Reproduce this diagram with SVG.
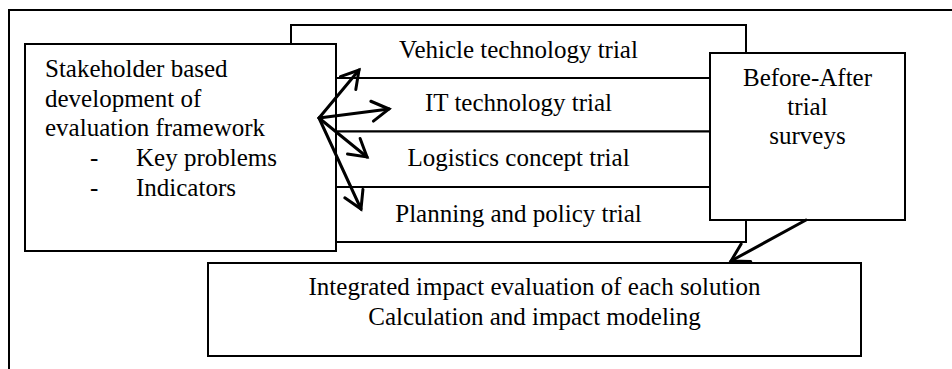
<svg xmlns="http://www.w3.org/2000/svg" width="952" height="369" viewBox="0 0 952 369">
  <style>
    .box { fill: #fff; stroke: #000; stroke-width: 2; }
    .frame { fill: none; stroke: #000; stroke-width: 2; }
    .lbl { font-family: "Liberation Serif", "Times New Roman", serif; font-size: 25px; fill: #000; }
    .mid { text-anchor: middle; }
    .arrow { fill: none; stroke: #000; stroke-width: 3; stroke-linecap: round; marker-end: url(#head); }
  </style>
  <defs>
    <marker id="head" markerUnits="userSpaceOnUse" orient="auto" markerWidth="30" markerHeight="30" refX="0" refY="0" viewBox="-22 -15 30 30" overflow="visible">
      <path d="M-17,-10 L0,0 L-17,10" fill="none" stroke="#000" stroke-width="3" stroke-linecap="round" stroke-linejoin="miter"/>
    </marker>
  </defs>

  <!-- page frame (top and left edges) -->
  <path class="frame" d="M9,369 V10 H952"/>

  <!-- stacked trial rows -->
  <g id="trial-vehicle">
    <rect class="box" x="291" y="25" width="455" height="53"/>
    <text class="lbl mid" x="518.5" y="58">Vehicle technology trial</text>
  </g>
  <g id="trial-it">
    <rect class="box" x="291" y="78" width="455" height="53.5"/>
    <text class="lbl mid" x="518.5" y="111">IT technology trial</text>
  </g>
  <g id="trial-logistics">
    <rect class="box" x="291" y="131.5" width="455" height="55.5"/>
    <text class="lbl mid" x="518.5" y="166">Logistics concept trial</text>
  </g>
  <g id="trial-planning">
    <rect class="box" x="291" y="187" width="455" height="55"/>
    <text class="lbl mid" x="518.5" y="222">Planning and policy trial</text>
  </g>

  <!-- stakeholder framework -->
  <g id="framework">
    <rect class="box" x="25" y="44" width="311" height="207"/>
    <text class="lbl" x="45" y="77">Stakeholder based</text>
    <text class="lbl" x="45" y="106.5">development of</text>
    <text class="lbl" x="45" y="136">evaluation framework</text>
    <text class="lbl" x="90" y="166">-</text>
    <text class="lbl" x="136" y="166">Key problems</text>
    <text class="lbl" x="90" y="195.5">-</text>
    <text class="lbl" x="136" y="195.5">Indicators</text>
  </g>

  <!-- surveys -->
  <g id="surveys">
    <rect class="box" x="710" y="53" width="195" height="167"/>
    <text class="lbl mid" x="807.5" y="86">Before-After</text>
    <text class="lbl mid" x="807.5" y="115">trial</text>
    <text class="lbl mid" x="807.5" y="144">surveys</text>
  </g>

  <!-- integrated evaluation -->
  <g id="evaluation">
    <rect class="box" x="208" y="263" width="653" height="93"/>
    <text class="lbl mid" x="534.5" y="295">Integrated impact evaluation of each solution</text>
    <text class="lbl mid" x="534.5" y="325">Calculation and impact modeling</text>
  </g>

  <!-- connectors -->
  <g id="connectors">
    <line class="arrow" x1="319" y1="118" x2="359" y2="70"/>
    <line class="arrow" x1="319" y1="118" x2="389" y2="109"/>
    <line class="arrow" x1="319" y1="118" x2="367" y2="157"/>
    <line class="arrow" x1="319" y1="118" x2="361" y2="209"/>
    <line class="arrow" x1="806" y1="220" x2="731" y2="261"/>
  </g>
</svg>
